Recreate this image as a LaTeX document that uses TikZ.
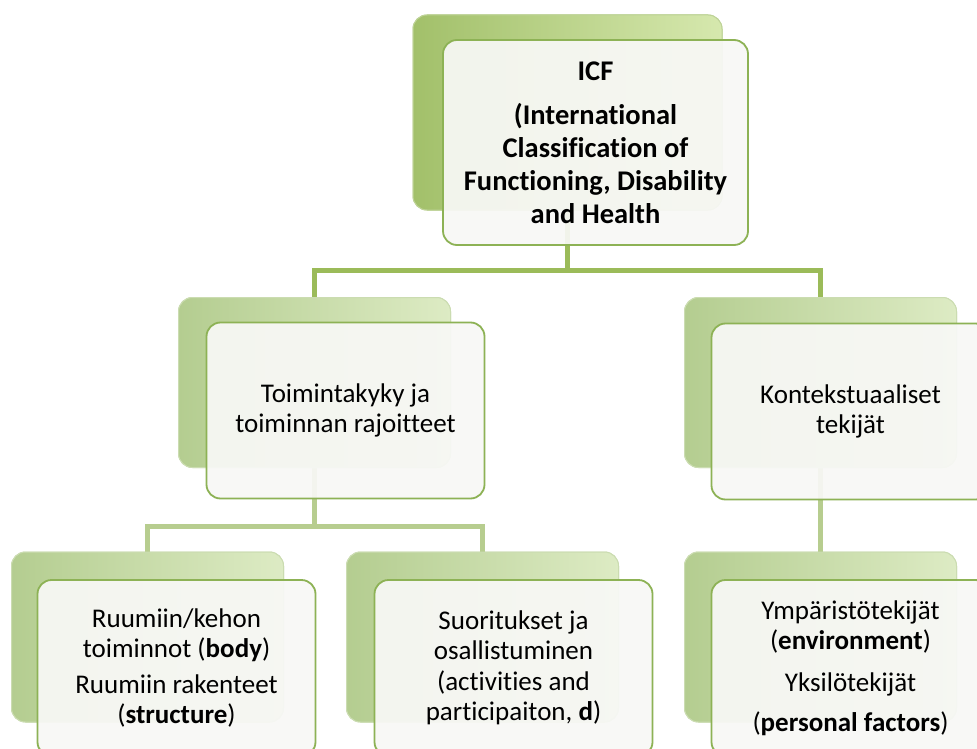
\documentclass[tikz,border=0pt]{standalone}
\usepackage{fontspec}
\setmainfont{Carlito}[Ligatures={NoCommon,NoRequired,NoContextual}]
\usetikzlibrary{positioning,calc}
\definecolor{gr70}{HTML}{9BBB59}
\definecolor{gr50}{HTML}{B7CD8F}
\definecolor{grdk}{HTML}{A2C06A}
\definecolor{grlt}{HTML}{D6E8AE}
\definecolor{grdk2}{HTML}{B4CD90}
\definecolor{grlt2}{HTML}{DDEBC4}
\definecolor{wt05}{HTML}{F8F8F6}
\definecolor{edge}{HTML}{8DB255}

\tikzset{
  backtop/.style={rectangle, rounded corners=14pt, draw=grdk!70!white, line width=1pt,
        left color=grdk, right color=grlt, inner sep=0pt},
  backlow/.style={rectangle, rounded corners=14pt, draw=grdk2!70!white, line width=1pt,
        left color=grdk2, right color=grlt2, inner sep=0pt,
        minimum width=272pt, minimum height=170pt},
  front/.style={rectangle, rounded corners=14pt, draw=edge, line width=1.8pt,
        fill=wt05, fill opacity=0.93, text opacity=1, align=center,
        minimum width=278pt, minimum height=176pt,
        font=\fontsize{27}{30.5}\selectfont},
  connA/.style={draw=gr70, line width=5pt},
  connB/.style={draw=gr50, line width=5pt}
}

\begin{document}
\begin{tikzpicture}[x=1pt,y=-1pt]
  \clip (0,0) rectangle (977,749);
  \fill[white] (0,0) rectangle (977,749);

  % back plates
  \node[backtop, minimum width=309pt, minimum height=195pt] (icfb) at (567.5,112.5) {};
  \node[backlow] (funcb) at (314.5,382.5) {};
  \node[backlow] (ctxb)  at (820.5,382.5) {};
  \node[backlow] (bodyb) at (147.5,637) {};
  \node[backlow] (actb)  at (482.5,637) {};
  \node[backlow] (envb)  at (820.5,637) {};

  % connectors
  \coordinate (j1) at (567.5,270);
  \coordinate (j2) at (314.5,526);
  \draw[connA] (icfb.south) -- (j1) -| (funcb.north);
  \draw[connA] (j1) -| (ctxb.north);
  \draw[connB] (funcb.south) -- (j2) -| (bodyb.north);
  \draw[connB] (j2) -| (actb.north);
  \draw[connB] (ctxb.south) -- (envb.north);

  % redraw plates over the connector ends
  \node[backtop, minimum width=309pt, minimum height=195pt] at (icfb) {};
  \foreach \b in {funcb,ctxb,bodyb,actb,envb}
    \node[backlow] at (\b) {};

  % front cards
  \node[front, minimum width=305pt, minimum height=205pt,
        font=\fontsize{28.5}{33}\selectfont\bfseries] (icf) at ($(icfb)+(28,30)$)
    {ICF\\[11pt] (International\\Classification of\\Functioning, Disability\\and Health};
  \node[front] (func) at ($(funcb)+(31,28)$) {Toimintakyky ja\\toiminnan rajoitteet};
  \node[front] (ctx)  at ($(ctxb)+(30,29)$) {Kontekstuaaliset\\tekijät};
  \node[front] (body) at ($(bodyb)+(29,31)$)
    {Ruumiin/kehon\\toiminnot (\textbf{body})\\[5pt] Ruumiin rakenteet\\(\textbf{structure})};
  \node[front] (act)  at ($(actb)+(31,31)$)
    {Suoritukset ja\\osallistuminen\\(activities and\\participaiton, \textbf{d})};
  \node[front] (env)  at ($(envb)+(30,31)$)
    {Ympäristötekijät\\(\textbf{environment})\\[11pt] Yksilötekijät\\[10pt](\textbf{personal factors})};
\end{tikzpicture}
\end{document}
